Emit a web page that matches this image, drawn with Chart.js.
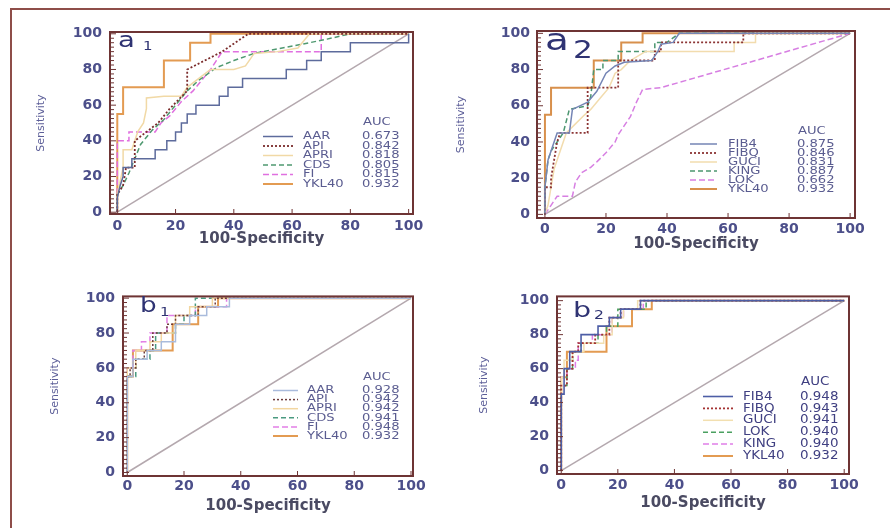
<!DOCTYPE html>
<html>
<head>
<meta charset="utf-8">
<script src="https://cdn.jsdelivr.net/npm/chart.js@4.4.0/dist/chart.umd.min.js"></script>
<style>
html, body { margin: 0; background: #fff; width: 890px; height: 528px; overflow: hidden; }
body { position: relative; }
.edge { position: absolute; background: #8e4d49; }
#edgeTop { left: 10px; top: 8px; width: 900px; height: 2px; }
#edgeLeft { left: 10px; top: 8px; width: 2px; height: 540px; }
canvas { position: absolute; }
</style>
</head>
<body>
<div class="edge" id="edgeTop"></div>
<div class="edge" id="edgeLeft"></div>
<canvas id="chartA1" width="420" height="240" style="left:20px;top:15px"></canvas>
<canvas id="chartA2" width="430" height="245" style="left:450px;top:15px"></canvas>
<canvas id="chartB1" width="420" height="240" style="left:20px;top:280px"></canvas>
<canvas id="chartB2" width="430" height="240" style="left:450px;top:280px"></canvas>
<script>
// ROC curves, points are [100-specificity, sensitivity]
var diagonal = [[0, 0], [100, 100]];
var ykl40 = [[0,0],[0,55],[2,55],[2,70],[16,70],[16,85],[25,85],[25,95],[32,95],[32,100],[100,100]];

// panel a1
var a1Names = ["AAR", "API", "APRI", "CDS", "FI", "YKL40"];
var a1Auc = [0.673, 0.842, 0.818, 0.805, 0.815, 0.932];
var a1AAR = [[0,0],[0,8],[1,15],[2,20],[2,25],[5,25],[5,30],[13,30],[13,35],[17,35],[17,40],[20,40],[20,45],[22,45],[22,50],[24,50],[24,55],[27,55],[27,60],[35,60],[35,65],[38,65],[38,70],[43,70],[43,75],[58,75],[58,80],[65,80],[65,85],[70,85],[70,90],[80,90],[80,95],[100,95],[100,100]];
var a1API = [[0,0],[0,10],[2,15],[3,25],[6,25],[6,40],[10,45],[14,50],[18,58],[21,63],[24,68],[24,80],[30,85],[36,90],[45,100],[100,100]];
var a1APRI = [[0,0],[0,10],[2,25],[2,35],[5,35],[7,45],[9,50],[10,58],[10,64],[16,65],[22,65],[24,70],[28,75],[32,80],[40,80],[44,82],[47,89],[55,90],[62,92],[66,100],[100,100]];
var a1CDS = [[0,0],[0,10],[2,15],[4,22],[6,30],[8,38],[12,46],[16,52],[20,60],[24,68],[28,74],[34,81],[40,85],[47,89],[55,91.5],[63,94],[72,97],[80,100],[100,100]];
var a1FI = [[0,0],[0,40],[4,40],[4,45],[13,45],[15,50],[18,54],[20,58],[22,62],[24,65],[26,68],[28,72],[30,76],[32,80],[34,85],[36,90],[70,90],[70,100],[100,100]];

// panel a2
var a2Names = ["FIB4", "FIBQ", "GUCI", "KING", "LOK", "YKL40"];
var a2Auc = [0.875, 0.846, 0.831, 0.887, 0.662, 0.932];
var a2FIB4 = [[0,0],[0,15],[1,30],[2,35],[4,45],[8,45],[9,58],[14,62],[17,68],[20,78],[23,82],[26,84],[35,85],[37,90],[38,94],[42,95],[44,100],[100,100]];
var a2FIBQ = [[0,0],[0,15],[2,15],[2,20],[3,30],[4,40],[5,45],[14,45],[14,70],[24,70],[24,85],[36,85],[36,90],[38,90],[38,95],[65,95],[65,100],[100,100]];
var a2GUCI = [[0,0],[1,5],[2,15],[3,25],[5,35],[7,45],[10,50],[13,55],[15,58],[18,64],[21,70],[23,78],[25,80],[28,85],[33,90],[40,90],[62,90],[62,95],[69,95],[69,100],[100,100]];
var a2KING = [[0,0],[0,15],[1,30],[2,35],[4,40],[6,45],[8,58],[14,60],[15,65],[16,80],[19,80],[19,85],[24,85],[24,90],[36,90],[36,95],[40,95],[44,100],[100,100]];
var a2LOK = [[0,0],[2,5],[4,10],[9,10],[10,18],[12,23],[15,26],[17,29],[20,34],[23,40],[24,44],[26,49],[28,54],[30,62],[32,69],[38,70],[100,100]];

// panel b1
var b1Names = ["AAR", "API", "APRI", "CDS", "FI", "YKL40"];
var b1Auc = [0.928, 0.942, 0.942, 0.941, 0.948, 0.932];
var b1AAR = [[0,0],[0,55],[2,55],[2,65],[7,65],[7,70],[12,70],[12,75],[17,75],[17,85],[22,85],[22,90],[28,90],[28,95],[36,95],[36,100],[100,100]];
var b1API = [[0,0],[0,55],[1,55],[1,60],[3,60],[3,65],[6,65],[6,70],[9,70],[9,80],[14,80],[14,85],[17,85],[17,90],[25,90],[25,95],[31,95],[31,100],[100,100]];
var b1APRI = [[0,0],[0,60],[3,60],[3,70],[8,70],[8,75],[12,75],[12,80],[17,80],[17,90],[22,90],[22,95],[30,95],[30,100],[100,100]];
var b1CDS = [[0,0],[0,55],[3,55],[3,65],[8,65],[8,70],[10,70],[10,80],[17,80],[17,85],[20,85],[20,90],[24,90],[24,100],[100,100]];
var b1FI = [[0,0],[0,60],[2,60],[2,70],[5,70],[5,75],[8,75],[8,80],[14,80],[14,90],[24,90],[24,95],[35,95],[35,100],[100,100]];

// panel b2
var b2Names = ["FIB4", "FIBQ", "GUCI", "LOK", "KING", "YKL40"];
var b2Auc = [0.948, 0.943, 0.941, 0.940, 0.940, 0.932];
var b2FIB4 = [[0,0],[0,45],[1,45],[1,60],[3,60],[3,70],[7,70],[7,80],[13,80],[13,85],[17,85],[17,90],[21,90],[21,95],[28,95],[28,100],[100,100]];
var b2FIBQ = [[0,0],[0,50],[2,50],[2,60],[4,60],[4,70],[6,70],[6,75],[12,75],[12,80],[17,80],[17,90],[21,90],[21,95],[28,95],[28,100],[100,100]];
var b2GUCI = [[0,0],[0,55],[1,55],[1,65],[4,65],[4,70],[8,70],[8,75],[15,75],[15,80],[18,80],[18,90],[22,90],[22,95],[27,95],[27,100],[100,100]];
var b2LOK = [[0,0],[0,50],[2,50],[2,60],[4,60],[4,70],[7,70],[7,75],[13,75],[13,80],[16,80],[16,85],[20,85],[20,95],[30,95],[30,100],[100,100]];
var b2KING = [[0,0],[0,55],[2,55],[2,60],[5,60],[5,65],[6,65],[6,75],[11,75],[11,80],[18,80],[18,90],[22,90],[22,95],[29,95],[29,100],[100,100]];

var tickValues = [0, 20, 40, 60, 80, 100];

// styles, one per legend row
var a1Styles = [
    { color: "#5d6b9c", dash: [], width: 1.5 },
    { color: "#7b2c2c", dash: [2, 2], width: 1.8 },
    { color: "#f1d9a6", dash: [], width: 1.5 },
    { color: "#4f9970", dash: [5, 3], width: 1.5 },
    { color: "#e070e0", dash: [6, 3], width: 1.5 },
    { color: "#e39b52", dash: [], width: 2 }
];
var a2Styles = [
    { color: "#7585b5", dash: [], width: 1.5 },
    { color: "#8c3535", dash: [2, 2], width: 1.8 },
    { color: "#f2dcae", dash: [], width: 1.5 },
    { color: "#4c9670", dash: [5, 3], width: 1.5 },
    { color: "#d77fe2", dash: [6, 3], width: 1.5 },
    { color: "#d8904c", dash: [], width: 2 }
];
var b1Styles = [
    { color: "#a9bbdc", dash: [], width: 1.5 },
    { color: "#6d3b3b", dash: [2, 2], width: 1.5 },
    { color: "#f2d6a0", dash: [], width: 1.5 },
    { color: "#4a9a80", dash: [5, 3], width: 1.5 },
    { color: "#e27fe6", dash: [6, 3], width: 1.5 },
    { color: "#e39b52", dash: [], width: 2 }
];
var b2Styles = [
    { color: "#4d5ea6", dash: [], width: 1.6 },
    { color: "#a43232", dash: [2, 2], width: 1.8 },
    { color: "#f2dfb0", dash: [], width: 1.5 },
    { color: "#4aa060", dash: [5, 3], width: 1.5 },
    { color: "#e07fe8", dash: [6, 3], width: 1.5 },
    { color: "#e39b52", dash: [], width: 2 }
];

// placement of every panel (pixels inside its canvas)
var layouts = {
    a1: { yW: 90, xH: 41, padTop: 17, padRight: 27, xMin: -2.5, xMax: 101.5, yMin: -1, yMax: 101,
          yTickPad: 8, xTickPad: 4, yTitlePad: 15, xTitlePad: 7,
          tag: "a", sub: "1", tagSize: 22, subSize: 12, tagStretch: 1.25, tagDx: 8, tagDy: 15, subDx: 33, subDy: 18,
          lg: { lineX0: -150, lineX1: -120, labelX: -110, valueX: -51, rowH: 9.5, bottomOff: 30, headerDy: -14,
                size: 10.5, stretch: 1.25, color: "#5a5c90" } },
    a2: { yW: 87, xH: 42, padTop: 16, padRight: 25, xMin: -2.6, xMax: 101.6, yMin: -2, yMax: 101.3,
          yTickPad: 7, xTickPad: 3, yTitlePad: 5, xTitlePad: 7,
          tag: "a", sub: "2", tagSize: 30, subSize: 24, tagStretch: 1.3, tagDx: 8, tagDy: 19, subDx: 36, subDy: 27,
          lg: { lineX0: -165, lineX1: -138, labelX: -127, valueX: -58, rowH: 9, bottomOff: 29, headerDy: -12.5,
                size: 10.5, stretch: 1.25, color: "#5a5c90" } },
    b1: { yW: 103, xH: 44, padTop: 16, padRight: 27, xMin: -1.5, xMax: 100.7, yMin: -2, yMax: 101,
          yTickPad: 8, xTickPad: 2, yTitlePad: 29, xTitlePad: 5,
          tag: "b", sub: "1", tagSize: 21, subSize: 12, tagStretch: 1.25, tagDx: 17, tagDy: 16, subDx: 37, subDy: 20,
          lg: { lineX0: -140, lineX1: -115, labelX: -106, valueX: -51, rowH: 9.1, bottomOff: 40, headerDy: -13.5,
                size: 10.5, stretch: 1.25, color: "#5a5c90" } },
    b2: { yW: 107, xH: 46, padTop: 16, padRight: 31, xMin: -1.5, xMax: 101.7, yMin: -2, yMax: 102.5,
          yTickPad: 8, xTickPad: 3, yTitlePad: 28, xTitlePad: 8,
          tag: "b", sub: "2", tagSize: 22, subSize: 12, tagStretch: 1.3, tagDx: 16, tagDy: 21, subDx: 37, subDy: 23,
          lg: { lineX0: -146, lineX1: -116, labelX: -106, valueX: -49, rowH: 11.9, bottomOff: 18, headerDy: -14.5,
                size: 12, stretch: 1.12, color: "#404082" } }
};

Chart.defaults.font.family = "'DejaVu Sans', sans-serif";

// text widened like the stretched original figure
function wideText(ctx, text, x, y, stretch) {
    ctx.save();
    ctx.translate(x, y);
    ctx.scale(stretch, 1);
    ctx.fillText(text, 0, 0);
    ctx.restore();
}

const panelFrame = {
    id: "panelFrame",
    afterDatasetsDraw(chart, args, opts) {
        const { ctx, chartArea: a, scales: { x, y } } = chart;
        ctx.save();
        ctx.strokeStyle = "#6e3434";
        ctx.lineWidth = 1;
        for (var v = 0; v <= 100; v += 2.5) {
            const py = y.getPixelForValue(v);
            ctx.beginPath();
            ctx.moveTo(a.left, py);
            ctx.lineTo(a.left + (v % 20 === 0 ? 6 : 4), py);
            ctx.stroke();
        }
        tickValues.forEach(v => {
            const px = x.getPixelForValue(v);
            ctx.beginPath();
            ctx.moveTo(px, a.bottom);
            ctx.lineTo(px, a.bottom - 5);
            ctx.stroke();
        });
        ctx.lineWidth = 2;
        ctx.strokeRect(a.left, a.top, a.right - a.left, a.bottom - a.top);

        // panel tag like a1
        ctx.fillStyle = "#2f3373";
        ctx.textBaseline = "alphabetic";
        ctx.font = opts.tagSize + "px 'DejaVu Sans'";
        wideText(ctx, opts.tag, a.left + opts.tagDx, a.top + opts.tagDy, opts.tagStretch);
        ctx.font = opts.subSize + "px 'DejaVu Sans'";
        wideText(ctx, opts.sub, a.left + opts.subDx, a.top + opts.subDy, opts.tagStretch);
        ctx.restore();
    }
};

const aucLegend = {
    id: "aucLegend",
    afterDraw(chart, args, opts) {
        const { ctx, chartArea: a } = chart;
        const sets = chart.data.datasets.filter(d => !d.isDiagonal);
        const n = sets.length;
        const top = a.bottom - opts.bottomOff - (n - 1) * opts.rowH;
        ctx.save();
        ctx.font = opts.size + "px 'DejaVu Sans'";
        ctx.fillStyle = opts.color;
        ctx.textBaseline = "middle";
        wideText(ctx, "AUC", a.right + opts.valueX + 1, top + opts.headerDy, opts.stretch);
        sets.forEach((d, i) => {
            const yy = top + i * opts.rowH;
            ctx.strokeStyle = d.borderColor;
            ctx.lineWidth = d.borderWidth;
            ctx.setLineDash(d.borderDash);
            ctx.beginPath();
            ctx.moveTo(a.right + opts.lineX0, yy);
            ctx.lineTo(a.right + opts.lineX1, yy);
            ctx.stroke();
            ctx.setLineDash([]);
            wideText(ctx, d.label, a.right + opts.labelX, yy, opts.stretch);
            wideText(ctx, opts.auc[i].toFixed(3), a.right + opts.valueX, yy, opts.stretch);
        });
        ctx.restore();
    }
};

function toPoints(arr) {
    return arr.map(p => ({ x: p[0], y: p[1] }));
}

function makePanel(chartId, names, series, styles, auc, lay) {
    const ctx = document.getElementById(chartId).getContext("2d");

    var datasets = names.map((name, i) => ({
        label: name,
        data: toPoints(series[i]),
        borderColor: styles[i].color,
        borderDash: styles[i].dash,
        borderWidth: styles[i].width,
        showLine: true,
        pointRadius: 0,
        fill: false
    }));
    datasets.push({
        label: "reference",
        isDiagonal: true,
        data: toPoints(diagonal),
        borderColor: "#b4a8ae",
        borderDash: [],
        borderWidth: 1.5,
        showLine: true,
        pointRadius: 0
    });

    var tickFont = { size: 14, weight: "bold" };

    var config = {
        type: "scatter",
        data: { datasets: datasets },
        options: {
            responsive: false,
            animation: false,
            layout: { padding: { top: lay.padTop, right: lay.padRight, left: 0, bottom: 0 } },
            plugins: {
                legend: { display: false },
                tooltip: { enabled: false },
                panelFrame: lay,
                aucLegend: Object.assign({ auc: auc }, lay.lg)
            },
            scales: {
                x: {
                    type: "linear",
                    min: lay.xMin,
                    max: lay.xMax,
                    afterFit: s => { s.height = lay.xH; },
                    grid: { display: false, drawTicks: false },
                    border: { display: false },
                    ticks: { stepSize: 20, includeBounds: false, padding: lay.xTickPad, maxRotation: 0,
                             autoSkip: false, font: tickFont, color: "#4c4f8a" },
                    title: { display: true, text: "100-Specificity", color: "#4a4a62",
                             font: { size: 15, weight: "bold" }, padding: { top: 0, bottom: lay.xTitlePad } }
                },
                y: {
                    type: "linear",
                    min: lay.yMin,
                    max: lay.yMax,
                    afterFit: s => { s.width = lay.yW; },
                    grid: { display: false, drawTicks: false },
                    border: { display: false },
                    ticks: { stepSize: 20, includeBounds: false, padding: lay.yTickPad,
                             autoSkip: false, font: tickFont, color: "#4c4f8a" },
                    title: { display: true, text: "Sensitivity", color: "#5c5e98",
                             font: { size: 11 }, padding: { top: lay.yTitlePad, bottom: 0 } }
                }
            }
        },
        plugins: [panelFrame, aucLegend]
    };

    return new Chart(ctx, config);
}

makePanel("chartA1", a1Names, [a1AAR, a1API, a1APRI, a1CDS, a1FI, ykl40], a1Styles, a1Auc, layouts.a1);
makePanel("chartA2", a2Names, [a2FIB4, a2FIBQ, a2GUCI, a2KING, a2LOK, ykl40], a2Styles, a2Auc, layouts.a2);
makePanel("chartB1", b1Names, [b1AAR, b1API, b1APRI, b1CDS, b1FI, ykl40], b1Styles, b1Auc, layouts.b1);
makePanel("chartB2", b2Names, [b2FIB4, b2FIBQ, b2GUCI, b2LOK, b2KING, ykl40], b2Styles, b2Auc, layouts.b2);
</script>
</body>
</html>
